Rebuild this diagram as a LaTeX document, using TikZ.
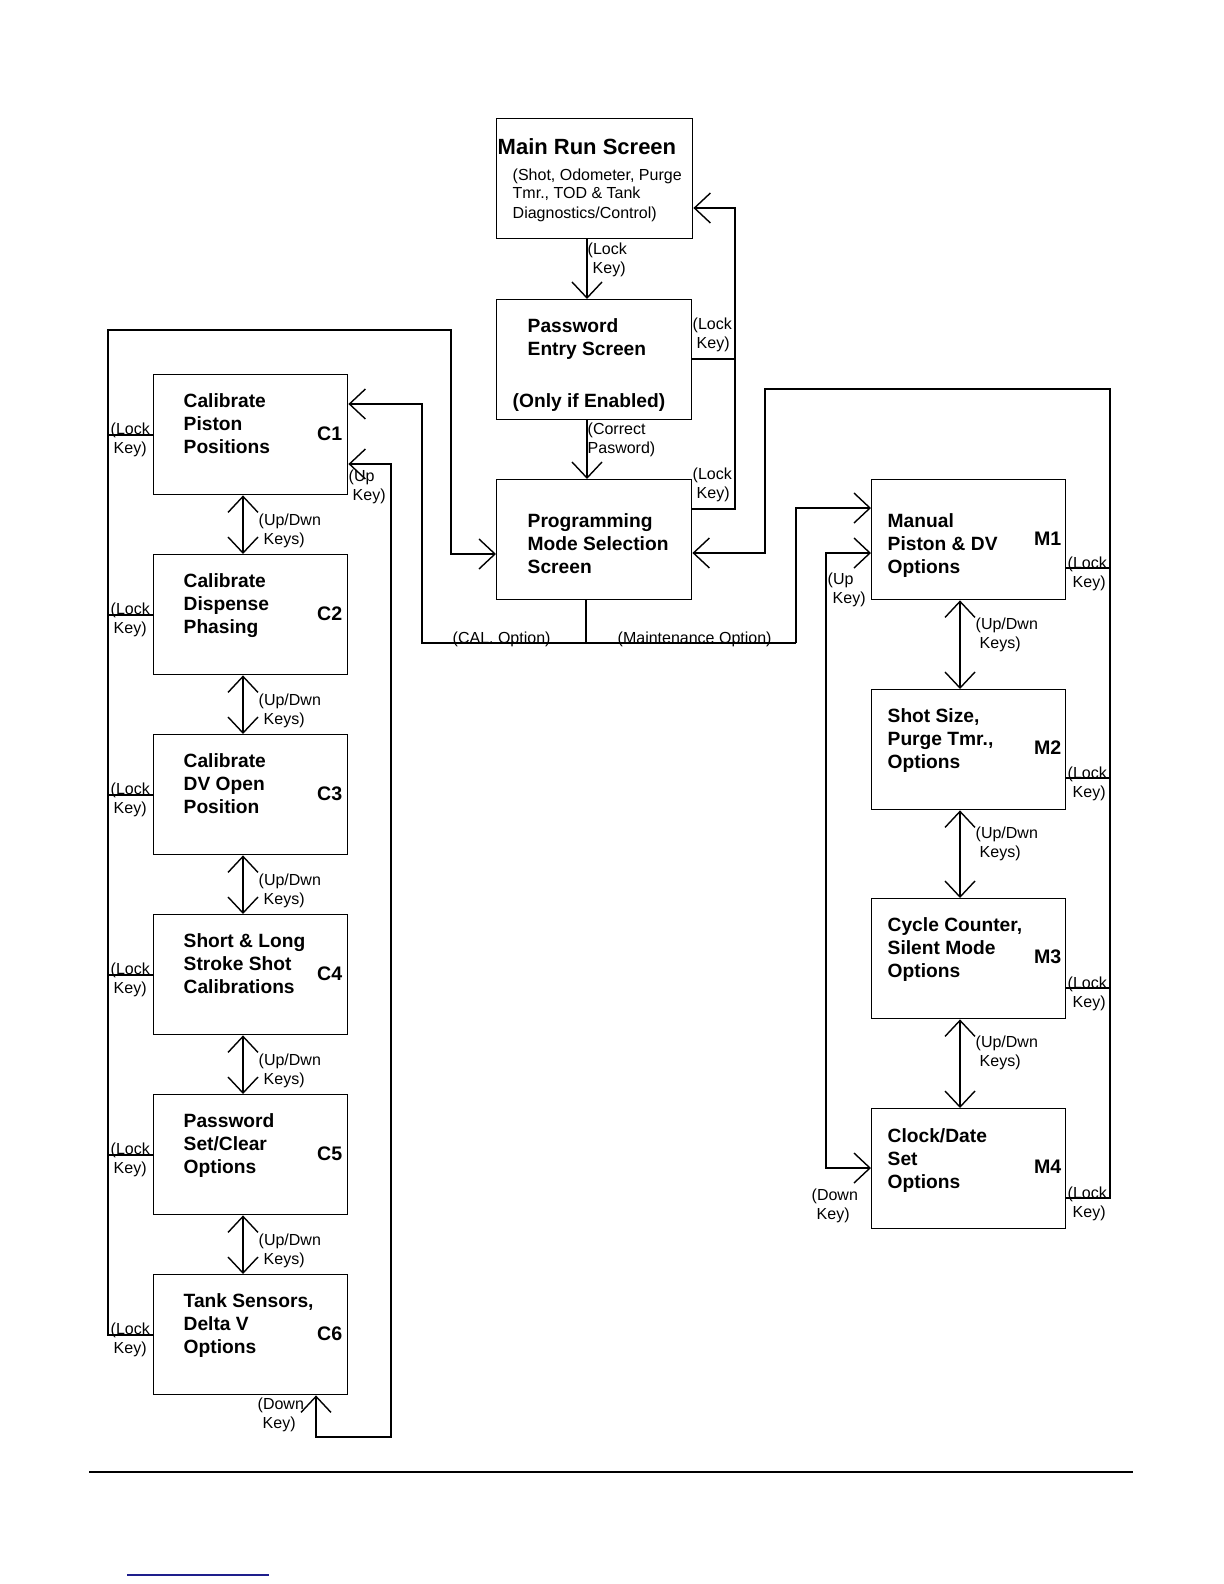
\documentclass[tikz,border=0pt]{standalone}
\usepackage{fontspec}
\setmainfont{Liberation Sans}
\usetikzlibrary{arrows.meta}
\newcommand\ml[1]{\begin{tabular}[t]{@{}l@{}}#1\end{tabular}}
\begin{document}
\begin{tikzpicture}[x=0.5pt,y=-0.5pt, line width=0.7pt,
  >={Straight Barb[length=8pt,width=15pt]},
  box/.style={draw, rectangle, anchor=north west, minimum width=97pt, minimum height=60pt, inner sep=0pt},
  btext/.style={anchor=base west, inner sep=0pt, font=\fontsize{9.6}{11.5}\selectfont\bfseries},
  blabel/.style={anchor=base east, inner sep=0pt, font=\fontsize{9.8}{11.5}\selectfont\bfseries},
  lbl/.style={anchor=base west, inner sep=0pt, font=\fontsize{8}{9.8}\selectfont},
]
\useasboundingbox (0,0) rectangle (1224,1584);

% ---------- boxes ----------
\node[box, minimum width=98pt] (main) at (496,118) {};
\node[box, minimum width=97.5pt] (pw) at (496,299) {};
\node[box, minimum width=97.5pt] (prog) at (496,479) {};
\node[box] (c1) at (153,374) {};
\node[box] (c2) at (153,554) {};
\node[box] (c3) at (153,734) {};
\node[box] (c4) at (153,914) {};
\node[box] (c5) at (153,1094) {};
\node[box] (c6) at (153,1274) {};
\node[box] (m1) at (871,479) {};
\node[box] (m2) at (871,689) {};
\node[box] (m3) at (871,898) {};
\node[box] (m4) at (871,1108) {};

% ---------- box texts ----------
\node[anchor=base west, inner sep=0pt, font=\fontsize{11}{13}\selectfont\bfseries] (mainT) at (497,155) {Main Run Screen};
\node[lbl, font=\fontsize{8}{9.5}\selectfont] (mainS) at (512,180) {\ml{(Shot, Odometer, Purge\\Tmr., TOD \& Tank\\Diagnostics/Control)}};
\node[btext] (pwT) at (527,332) {\ml{Password\\Entry Screen}};
\node[btext] (pwE) at (512,407) {(Only if Enabled)};
\node[btext] (progT) at (527,527) {\ml{Programming\\Mode Selection\\Screen}};

\node[btext] (c1T) at (183,407) {\ml{Calibrate\\Piston\\Positions}};
\node[btext] (c2T) at (183,587) {\ml{Calibrate\\Dispense\\Phasing}};
\node[btext] (c3T) at (183,767) {\ml{Calibrate\\DV Open\\Position}};
\node[btext] (c4T) at (183,947) {\ml{Short \& Long\\Stroke Shot\\Calibrations}};
\node[btext] (c5T) at (183,1127) {\ml{Password\\Set/Clear\\Options}};
\node[btext] (c6T) at (183,1307) {\ml{Tank Sensors,\\Delta V\\Options}};
\node[blabel] (c1L) at (343,440) {C1};
\node[blabel] (c2L) at (343,620) {C2};
\node[blabel] (c3L) at (343,800) {C3};
\node[blabel] (c4L) at (343,980) {C4};
\node[blabel] (c5L) at (343,1160) {C5};
\node[blabel] (c6L) at (343,1340) {C6};

\node[btext] (m1T) at (887,527) {\ml{Manual\\Piston \& DV\\Options}};
\node[btext] (m2T) at (887,722) {\ml{Shot Size,\\Purge Tmr.,\\Options}};
\node[btext] (m3T) at (887,931) {\ml{Cycle Counter,\\Silent Mode\\Options}};
\node[btext] (m4T) at (887,1142) {\ml{Clock/Date\\Set\\Options}};
\node[blabel] (m1L) at (1062,545) {M1};
\node[blabel] (m2L) at (1062,754) {M2};
\node[blabel] (m3L) at (1062,963) {M3};
\node[blabel] (m4L) at (1062,1173) {M4};

% ---------- helper coordinates ----------
\coordinate (xa) at (587,0);
\coordinate (rr) at (735,208);
\coordinate (cal) at (586,643);
\coordinate (calL) at (422,643);
\coordinate (calR) at (796,643);
\coordinate (ll) at (108,330);
\coordinate (lt) at (451,554);
\coordinate (rr2) at (1110,389);
\coordinate (rt) at (765,553);
\coordinate (cu) at (391,1437);
\coordinate (cd) at (316,0);
\coordinate (mu) at (826,553);
\coordinate (md) at (0,1168);
\coordinate (cx) at (243,0);
\coordinate (mx) at (960,0);

% ---------- connectors ----------
\draw[->] (main.south -| xa) -- (pw.north -| xa);
\draw[->] (pw.south -| xa) -- (prog.north -| xa);
\draw[->] (prog.east |- 0,509) -| (rr) -- (main.east |- rr);
\draw (pw.east |- 0,359) -- (rr |- 0,359);

\draw (prog.south -| cal) -- (cal);
\draw[->] (calR) -- (calL) |- (c1.east |- 0,404);
\draw[->] (calR) |- (m1.west |- 0,508);

\draw[->] (c6.west |- 0,1335) -| (ll) -| (lt) -- (prog.west |- lt);
\draw (c1.west |- 0,435) -- (ll |- 0,435);
\draw (c2.west |- 0,615) -- (ll |- 0,615);
\draw (c3.west |- 0,795) -- (ll |- 0,795);
\draw (c4.west |- 0,975) -- (ll |- 0,975);
\draw (c5.west |- 0,1155) -- (ll |- 0,1155);

\draw[->] (m4.east |- 0,1198) -| (rr2) -| (rt) -- (prog.east |- rt);
\draw (m1.east |- 0,568) -- (rr2 |- 0,568);
\draw (m2.east |- 0,778) -- (rr2 |- 0,778);
\draw (m3.east |- 0,988) -- (rr2 |- 0,988);

\draw[<->] (c1.east |- 0,464) -| (cu) -| (c6.south -| cd);
\draw[<->] (m1.west |- mu) -- (mu) -- (mu |- md) -- (m4.west |- md);

\draw[<->] (c1.south -| cx) -- (c2.north -| cx);
\draw[<->] (c2.south -| cx) -- (c3.north -| cx);
\draw[<->] (c3.south -| cx) -- (c4.north -| cx);
\draw[<->] (c4.south -| cx) -- (c5.north -| cx);
\draw[<->] (c5.south -| cx) -- (c6.north -| cx);
\draw[<->] (m1.south -| mx) -- (m2.north -| mx);
\draw[<->] (m2.south -| mx) -- (m3.north -| mx);
\draw[<->] (m3.south -| mx) -- (m4.north -| mx);

% ---------- connector labels ----------
\node[lbl] (l1) at (587,254) {\ml{(Lock\\\hspace*{2.5pt}Key)}};
\node[lbl] (l2) at (692,329) {\ml{(Lock\\\hspace*{2pt}Key)}};
\node[lbl] (l3) at (587,434) {\ml{(Correct\\Pasword)}};
\node[lbl] (l4) at (692,479) {\ml{(Lock\\\hspace*{2pt}Key)}};
\node[lbl] (lcal) at (452,643) {(CAL. Option)};
\node[lbl] (lmnt) at (617,643) {(Maintenance Option)};

\node[lbl] (lc1) at (110,434) {\ml{(Lock\\\hspace*{1.5pt}Key)}};
\node[lbl] (lc2) at (110,614) {\ml{(Lock\\\hspace*{1.5pt}Key)}};
\node[lbl] (lc3) at (110,794) {\ml{(Lock\\\hspace*{1.5pt}Key)}};
\node[lbl] (lc4) at (110,974) {\ml{(Lock\\\hspace*{1.5pt}Key)}};
\node[lbl] (lc5) at (110,1154) {\ml{(Lock\\\hspace*{1.5pt}Key)}};
\node[lbl] (lc6) at (110,1334) {\ml{(Lock\\\hspace*{1.5pt}Key)}};
\node[lbl] (lcu) at (348,481) {\ml{(Up\\\hspace*{2pt}Key)}};
\node[lbl] (lcd) at (257,1409) {\ml{(Down\\\hspace*{2.5pt}Key)}};
\node[lbl] (ud1) at (258,525) {\ml{(Up/Dwn\\\hspace*{2.5pt}Keys)}};
\node[lbl] (ud2) at (258,705) {\ml{(Up/Dwn\\\hspace*{2.5pt}Keys)}};
\node[lbl] (ud3) at (258,885) {\ml{(Up/Dwn\\\hspace*{2.5pt}Keys)}};
\node[lbl] (ud4) at (258,1065) {\ml{(Up/Dwn\\\hspace*{2.5pt}Keys)}};
\node[lbl] (ud5) at (258,1245) {\ml{(Up/Dwn\\\hspace*{2.5pt}Keys)}};

\node[lbl] (lm1) at (1067,568) {\ml{(Lock\\\hspace*{2.5pt}Key)}};
\node[lbl] (lm2) at (1067,778) {\ml{(Lock\\\hspace*{2.5pt}Key)}};
\node[lbl] (lm3) at (1067,988) {\ml{(Lock\\\hspace*{2.5pt}Key)}};
\node[lbl] (lm4) at (1067,1198) {\ml{(Lock\\\hspace*{2.5pt}Key)}};
\node[lbl] (lmu) at (827,584) {\ml{(Up\\\hspace*{2.5pt}Key)}};
\node[lbl] (lmd) at (811,1200) {\ml{(Down\\\hspace*{2.5pt}Key)}};
\node[lbl] (mud1) at (975,629) {\ml{(Up/Dwn\\\hspace*{2pt}Keys)}};
\node[lbl] (mud2) at (975,838) {\ml{(Up/Dwn\\\hspace*{2pt}Keys)}};
\node[lbl] (mud3) at (975,1047) {\ml{(Up/Dwn\\\hspace*{2pt}Keys)}};

% ---------- page rules ----------
\coordinate (ruleL) at (89,1472);
\coordinate (ruleR) at (1133,1472);
\draw[line width=0.8pt] (ruleL) -- (ruleR);
\definecolor{linkblue}{RGB}{30,30,140}
\coordinate (blueL) at (127,1575);
\coordinate (blueR) at (269,1575);
\draw[linkblue, line width=0.6pt] (blueL) -- (blueR);
\end{tikzpicture}
\end{document}
